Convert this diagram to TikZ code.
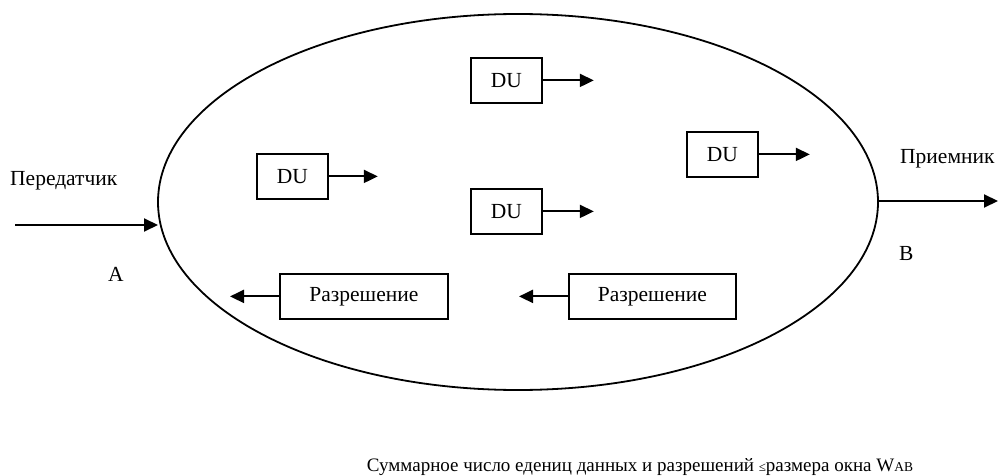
\documentclass[tikz,border=0pt]{standalone}
\usepackage{fontspec}
\setmainfont{Liberation Serif}
\usetikzlibrary{arrows.meta,shapes.geometric}
\begin{document}
\begin{tikzpicture}[x=1pt,y=-1pt,
  lbl/.style={font=\fontsize{21.5}{24}\selectfont, inner sep=0pt},
  box/.style={draw, line width=1.8pt, font=\fontsize{21.5}{24}\selectfont, inner sep=0pt, anchor=north west},
  arr/.style={line width=2pt, -{Triangle[length=14pt,width=13pt]}}]
\useasboundingbox (0,0) rectangle (998,476);
\node[draw, ellipse, line width=1.8pt, minimum width=720pt, minimum height=376pt, inner sep=0pt] (ell) at (518,202) {};
% DU boxes
\node[box, minimum width=71pt, minimum height=45pt] (du1) at (470,57) {DU};
\node[box, minimum width=71pt, minimum height=45pt] (du2) at (256,153) {DU};
\node[box, minimum width=71pt, minimum height=45pt] (du3) at (470,188) {DU};
\node[box, minimum width=71pt, minimum height=45pt] (du4) at (686,131) {DU};
\node[box, minimum width=168pt, minimum height=45pt] (r1) at (279,273) {Разрешение};
\node[box, minimum width=167pt, minimum height=45pt] (r2) at (568,273) {Разрешение};
\coordinate (e1) at ([xshift=51pt]du1.east);
\coordinate (e2) at ([xshift=49pt]du2.east);
\coordinate (e3) at ([xshift=51pt]du3.east);
\coordinate (e4) at ([xshift=51pt]du4.east);
\coordinate (e5) at ([xshift=-49pt]r1.west);
\coordinate (e6) at ([xshift=-49pt]r2.west);
\draw[arr] (du1.east) -- (e1);
\draw[arr] (du2.east) -- (e2);
\draw[arr] (du3.east) -- (e3);
\draw[arr] (du4.east) -- (e4);
\draw[arr] (r1.west) -- (e5);
\draw[arr] (r2.west) -- (e6);
% outside
\coordinate (inA) at (15,225);
\coordinate (inAe) at (158,225);
\draw[arr] (inA) -- (inAe);
\coordinate (outB) at (878,201);
\coordinate (outBe) at (998,201);
\draw[arr] (outB) -- (outBe);
\node[lbl, anchor=base west] (tx) at (10,185) {Передатчик};
\node[lbl, anchor=base west] (rx) at (900,164) {Приемник};
\node[lbl, anchor=base west] (A) at (108,281) {A};
\node[lbl, anchor=base west] (B) at (899,260) {B};
\node[font=\fontsize{19}{22}\selectfont, inner sep=0pt, anchor=base] (cap) at (640,471) {Суммарное число едениц данных и разрешений {\fontsize{13}{15}\selectfont ≤}размера окна W{\fontsize{13.5}{15}\selectfont AB}};
\end{tikzpicture}
\end{document}
